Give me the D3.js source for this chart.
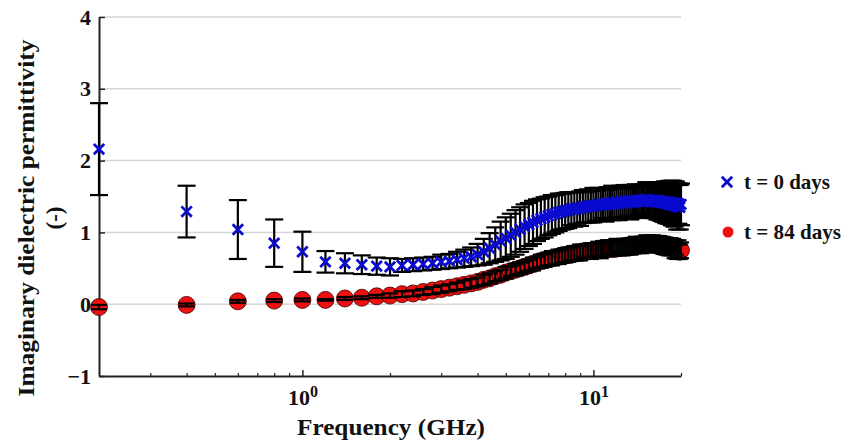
<!DOCTYPE html>
<html>
<head>
<meta charset="utf-8">
<script src="https://cdn.jsdelivr.net/npm/d3@7"></script>
<style>
  html, body { margin: 0; padding: 0; background: #fff; }
  svg { display: block; }
  text { font-family: "Liberation Serif", "Times New Roman", serif; font-weight: bold; fill: #111; }
</style>
</head>
<body>
<svg id="chart" width="857" height="444"></svg>
<script>
// Frequency (GHz)
const freq = [0.2,0.4,0.6,0.8,1.0,1.2,1.4,1.6,1.8,2.0,2.2,2.4,2.6,2.8,3.0,3.2,3.4,3.6,3.8,4.0,
  4.2,4.4,4.6,4.8,5.0,5.2,5.4,5.6,5.8,6.0,6.2,6.4,6.6,6.8,7.0,7.2,7.4,7.6,7.8,8.0,
  8.2,8.4,8.6,8.8,9.0,9.2,9.4,9.6,9.8,10.0,10.2,10.4,10.6,10.8,11.0,11.2,11.4,11.6,11.8,12.0,
  12.2,12.4,12.6,12.8,13.0,13.2,13.4,13.6,13.8,14.0,14.2,14.4,14.6,14.8,15.0,15.2,15.4,15.6,15.8,16.0,
  16.2,16.4,16.6,16.8,17.0,17.2,17.4,17.6,17.8,18.0,18.2,18.4,18.6,18.8,19.0,19.2,19.4,19.6,19.8,20.0];

// t = 0 days: mean and error
const eps0 = [2.16,1.29,1.04,0.85,0.73,0.59,0.57,0.55,0.53,0.52,0.54,0.55,0.56,0.57,0.59,0.60,0.62,0.64,0.66,0.69,
  0.73,0.78,0.83,0.88,0.92,0.96,1.00,1.04,1.08,1.11,1.14,1.17,1.19,1.21,1.23,1.25,1.26,1.28,1.29,1.30,
  1.31,1.33,1.32,1.34,1.33,1.36,1.35,1.37,1.36,1.38,1.37,1.39,1.38,1.40,1.38,1.41,1.39,1.41,1.40,1.42,
  1.40,1.43,1.41,1.43,1.41,1.44,1.42,1.44,1.42,1.44,1.43,1.45,1.43,1.45,1.43,1.46,1.44,1.45,1.43,1.45,
  1.43,1.45,1.42,1.44,1.42,1.43,1.41,1.43,1.40,1.42,1.39,1.42,1.38,1.41,1.37,1.41,1.36,1.40,1.35,1.39];
const err0 = [0.64,0.36,0.41,0.33,0.28,0.15,0.14,0.13,0.12,0.12,0.09,0.09,0.09,0.09,0.10,0.10,0.11,0.12,0.13,0.15,
  0.18,0.21,0.24,0.27,0.29,0.30,0.31,0.31,0.31,0.30,0.30,0.29,0.28,0.28,0.27,0.27,0.26,0.26,0.25,0.25,
  0.25,0.23,0.24,0.22,0.24,0.23,0.21,0.23,0.22,0.24,0.21,0.23,0.22,0.20,0.23,0.22,0.21,0.24,0.22,0.21,
  0.23,0.22,0.20,0.23,0.22,0.21,0.24,0.22,0.21,0.23,0.22,0.20,0.23,0.22,0.21,0.24,0.22,0.23,0.21,0.24,
  0.23,0.25,0.24,0.26,0.25,0.27,0.26,0.28,0.27,0.29,0.27,0.30,0.28,0.31,0.29,0.30,0.32,0.28,0.31,0.29];

// t = 84 days: mean and error
const eps84 = [-0.04,-0.01,0.04,0.05,0.06,0.06,0.08,0.09,0.11,0.12,0.14,0.15,0.17,0.19,0.21,0.23,0.25,0.27,0.29,0.31,
  0.34,0.36,0.39,0.41,0.44,0.46,0.48,0.50,0.52,0.54,0.56,0.58,0.60,0.61,0.63,0.64,0.65,0.66,0.67,0.68,
  0.69,0.70,0.71,0.71,0.72,0.73,0.73,0.74,0.74,0.75,0.75,0.77,0.75,0.78,0.76,0.78,0.77,0.79,0.77,0.80,
  0.78,0.80,0.79,0.81,0.79,0.82,0.80,0.82,0.81,0.83,0.81,0.83,0.82,0.84,0.82,0.85,0.83,0.85,0.83,0.85,
  0.83,0.84,0.82,0.84,0.82,0.83,0.81,0.83,0.80,0.82,0.79,0.81,0.78,0.80,0.76,0.79,0.74,0.77,0.73,0.75];
const err84 = [0.03,0.02,0.02,0.02,0.02,0.01,0.02,0.02,0.02,0.03,0.04,0.04,0.04,0.05,0.05,0.05,0.05,0.06,0.06,0.06,
  0.07,0.07,0.07,0.07,0.08,0.07,0.08,0.08,0.08,0.08,0.09,0.08,0.09,0.09,0.09,0.10,0.09,0.10,0.09,0.10,
  0.10,0.09,0.10,0.10,0.11,0.10,0.09,0.10,0.11,0.10,0.09,0.10,0.11,0.10,0.09,0.11,0.10,0.10,0.09,0.11,
  0.10,0.09,0.11,0.10,0.10,0.09,0.11,0.10,0.10,0.11,0.09,0.10,0.11,0.10,0.09,0.11,0.10,0.10,0.09,0.11,
  0.10,0.11,0.10,0.11,0.10,0.11,0.11,0.10,0.11,0.10,0.11,0.11,0.10,0.11,0.12,0.10,0.11,0.12,0.10,0.11];

const yTicks = [-1, 0, 1, 2, 3, 4];
const xMinorTicks = [0.3,0.4,0.5,0.6,0.7,0.8,0.9,2,3,4,5,6,7,8,9,20];
const xMajorTicks = [1, 10];
const xMajorLabels = [["10","0"],["10","1"]];
const seriesNames = ["t = 0 days", "t = 84 days"];
const xTitle = "Frequency (GHz)";
const yTitle = ["Imaginary dielectric permittivity", "(-)"];

const svg = d3.select("#chart");
const x = d3.scaleLog().domain([0.2, 20]).range([99, 681]);
const y = d3.scaleLinear().domain([-1, 4]).range([376, 17]);

// gridlines
svg.append("g").selectAll("line").data(yTicks.filter(d => d > -1)).join("line")
  .attr("x1", x(0.2)).attr("x2", x(20))
  .attr("y1", d => y(d)).attr("y2", d => y(d))
  .attr("stroke", "#d6d6d6").attr("stroke-width", 1.5);

// axes
const yAxis = svg.append("g").attr("transform", `translate(${x(0.2)},0)`)
  .call(d3.axisLeft(y).tickValues(yTicks).tickSizeInner(-6).tickSizeOuter(0).tickPadding(8).tickFormat(d3.format("d")));
yAxis.select(".domain").attr("stroke", "#222").attr("stroke-width", 2);
yAxis.selectAll(".tick line").attr("stroke", "#222").attr("stroke-width", 1.5);
yAxis.selectAll(".tick text").style("font-size", "22px").attr("fill", "#111");

const xAxis = svg.append("g").attr("transform", `translate(0,${y(-1)})`)
  .call(d3.axisBottom(x).tickValues(xMinorTicks).tickSizeInner(-3).tickSizeOuter(0).tickFormat(""));
xAxis.select(".domain").attr("stroke", "#222").attr("stroke-width", 2);
xAxis.selectAll(".tick line").attr("stroke", "#222").attr("stroke-width", 1.2);

const xAxisMaj = svg.append("g").attr("transform", `translate(0,${y(-1)})`)
  .call(d3.axisBottom(x).tickValues(xMajorTicks).tickSizeInner(-6).tickSizeOuter(0).tickPadding(13).tickFormat(""));
xAxisMaj.select(".domain").remove();
xAxisMaj.selectAll(".tick line").attr("stroke", "#222").attr("stroke-width", 1.5);
xAxisMaj.selectAll(".tick text").each(function(d, i) {
  const t = d3.select(this).text(null).style("font-size", "22px").attr("fill", "#111").attr("dy", "0.71em");
  t.append("tspan").text(xMajorLabels[i][0]);
  t.append("tspan").text(xMajorLabels[i][1]).style("font-size", "16px").attr("dy", "-8");
});

// Axis titles
svg.append("text").attr("x", 391).attr("y", 435).attr("text-anchor", "middle")
  .style("font-size", "23px").attr("textLength", 188).attr("lengthAdjust", "spacingAndGlyphs").text(xTitle);
const yt = svg.append("text").attr("transform", "translate(34,218) rotate(-90)").attr("text-anchor", "middle")
  .style("font-size", "23px");
yt.append("tspan").attr("x", 0).attr("y", 0).attr("textLength", 357).attr("lengthAdjust", "spacingAndGlyphs").text(yTitle[0]);
yt.append("tspan").attr("x", 0).attr("y", 28).text(yTitle[1]);

const d0 = freq.map((f, i) => ({f, v: eps0[i], e: err0[i]}));
const d84 = freq.map((f, i) => ({f, v: eps84[i], e: err84[i]}));

function errorBars(g, data, cap, w) {
  const eb = g.append("g").attr("stroke", "#000").attr("stroke-width", w);
  eb.selectAll("line.v").data(data).join("line").attr("class", "v")
    .attr("x1", d => x(d.f)).attr("x2", d => x(d.f))
    .attr("y1", d => y(d.v - d.e)).attr("y2", d => y(d.v + d.e));
  eb.selectAll("line.t").data(data).join("line").attr("class", "t")
    .attr("x1", d => x(d.f) - cap).attr("x2", d => x(d.f) + cap)
    .attr("y1", d => y(d.v + d.e)).attr("y2", d => y(d.v + d.e));
  eb.selectAll("line.b").data(data).join("line").attr("class", "b")
    .attr("x1", d => x(d.f) - cap).attr("x2", d => x(d.f) + cap)
    .attr("y1", d => y(d.v - d.e)).attr("y2", d => y(d.v - d.e));
}

// t = 84 days: circles then error bars
const g84 = svg.append("g");
g84.append("g").selectAll("circle").data(d84).join("circle")
  .attr("cx", d => x(d.f)).attr("cy", d => y(d.v)).attr("r", 8.5)
  .attr("fill", "#ec1010").attr("stroke", "#400").attr("stroke-width", 0.8);
errorBars(g84, d84, 8, 2.2);

// t = 0 days: error bars then crosses
const g0 = svg.append("g");
errorBars(g0, d0, 9, 2.2);
const s = 5.2;
g0.append("g").selectAll("path").data(d0).join("path")
  .attr("d", d => { const cx = x(d.f), cy = y(d.v);
    return `M${cx-s},${cy-s}L${cx+s},${cy+s}M${cx-s},${cy+s}L${cx+s},${cy-s}`; })
  .attr("stroke", "#0a0ad0").attr("stroke-width", 2.8).attr("fill", "none");

// Legend
const lg = svg.append("g");
lg.append("path").attr("d", `M${727-s},${182-s}L${727+s},${182+s}M${727-s},${182+s}L${727+s},${182-s}`)
  .attr("stroke", "#0a0ad0").attr("stroke-width", 2.8);
lg.append("text").attr("x", 744).attr("y", 189).style("font-size", "21px")
  .attr("textLength", 86).attr("lengthAdjust", "spacingAndGlyphs").text(seriesNames[0]);
lg.append("circle").attr("cx", 728).attr("cy", 232).attr("r", 5.5).attr("fill", "#ec1010");
lg.append("text").attr("x", 744).attr("y", 239).style("font-size", "21px")
  .attr("textLength", 97).attr("lengthAdjust", "spacingAndGlyphs").text(seriesNames[1]);
</script>
</body>
</html>
